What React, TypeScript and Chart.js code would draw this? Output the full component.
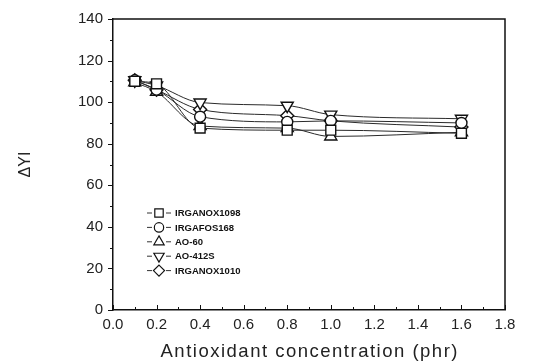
import React, { useEffect, useRef } from 'react';
import { Chart, registerables } from 'chart.js';

Chart.register(...registerables);

const concentrations = [0.1, 0.2, 0.4, 0.8, 1.0, 1.6];
const seriesNames = ['IRGANOX1098', 'IRGAFOS168', 'AO-60', 'AO-412S', 'IRGANOX1010'];
const irganox1098 = [110, 108.8, 87.5, 86.5, 86.5, 85];
const irgafos168 = [110.5, 106, 93, 90.5, 91, 90];
const ao60 = [109.5, 105, 88.5, 87.5, 83.5, 85.5];
const ao412s = [110.5, 108, 99.8, 98.3, 94, 92];
const irganox1010 = [110.5, 106, 96.5, 93.5, 91, 88];
const xAxisTitle = 'Antioxidant concentration (phr)';
const yAxisTitle = 'ΔYI';

const seriesValues = [irganox1098, irgafos168, ao60, ao412s, irganox1010];
const markerStyles = ['rect', 'circle', 'triangle', 'triangle', 'rectRot'];
const markerRotations = [0, 0, 0, 180, 0];
const markerRadii = [7, 5.5, 7, 7, 6.5];

const FONT = '"Liberation Sans", Arial, Helvetica, sans-serif';

function drawMarker(ctx: CanvasRenderingContext2D, style: string, rot: number, x: number, y: number, r: number) {
  ctx.beginPath();
  if (style === 'rect') {
    const s = r * Math.SQRT1_2;
    ctx.rect(x - s, y - s, 2 * s, 2 * s);
  } else if (style === 'circle') {
    ctx.arc(x, y, r, 0, Math.PI * 2);
  } else if (style === 'triangle') {
    let a = (rot * Math.PI) / 180;
    ctx.moveTo(x + Math.sin(a) * r, y - Math.cos(a) * r);
    a += (2 * Math.PI) / 3;
    ctx.lineTo(x + Math.sin(a) * r, y - Math.cos(a) * r);
    a += (2 * Math.PI) / 3;
    ctx.lineTo(x + Math.sin(a) * r, y - Math.cos(a) * r);
    ctx.closePath();
  } else if (style === 'rectRot') {
    ctx.moveTo(x, y - r);
    ctx.lineTo(x + r, y);
    ctx.lineTo(x, y + r);
    ctx.lineTo(x - r, y);
    ctx.closePath();
  }
  ctx.fillStyle = '#fff';
  ctx.fill();
  ctx.stroke();
}

function drawSpacedText(ctx: CanvasRenderingContext2D, text: string, cx: number, y: number, spacing: number) {
  const chars = Array.from(text);
  const widths = chars.map((c) => ctx.measureText(c).width);
  const total = widths.reduce((a, b) => a + b, 0) + spacing * (chars.length - 1);
  let x = cx - total / 2;
  ctx.textAlign = 'left';
  chars.forEach((c, i) => {
    ctx.fillText(c, x, y);
    x += widths[i] + spacing;
  });
}

const framePlugin = {
  id: 'frameTicks',
  afterDraw(chart: any) {
    const { ctx, chartArea } = chart;
    const xs = chart.scales.x;
    const ys = chart.scales.y;
    ctx.save();
    ctx.strokeStyle = '#111';
    ctx.lineWidth = 1.5;
    ctx.beginPath();
    ctx.moveTo(chartArea.left, chartArea.top);
    ctx.lineTo(chartArea.right, chartArea.top);
    ctx.lineTo(chartArea.right, chartArea.bottom);
    ctx.stroke();
    ctx.lineWidth = 1;
    // y ticks (outward)
    for (let v = 0; v <= 140; v += 10) {
      const py = Math.round(ys.getPixelForValue(v)) + 0.5;
      const len = v % 20 === 0 ? 5 : 3;
      ctx.beginPath();
      ctx.moveTo(chartArea.left - len, py);
      ctx.lineTo(chartArea.left, py);
      ctx.stroke();
    }
    // x ticks (inward)
    for (let i = 0; i <= 18; i++) {
      const px = Math.round(xs.getPixelForValue(i / 10)) + 0.5;
      const len = i % 2 === 0 ? 5 : 3;
      ctx.beginPath();
      ctx.moveTo(px, chartArea.bottom);
      ctx.lineTo(px, chartArea.bottom - len);
      ctx.stroke();
    }
    // x axis title
    ctx.fillStyle = '#222';
    ctx.font = `18.5px ${FONT}`;
    ctx.textBaseline = 'alphabetic';
    drawSpacedText(ctx, xAxisTitle, (chartArea.left + chartArea.right) / 2, 357, 1.5);
    // legend
    const lx = 159;
    const ly0 = 213;
    const step = 14.4;
    ctx.font = `bold 9.5px ${FONT}`;
    ctx.textBaseline = 'middle';
    ctx.textAlign = 'left';
    seriesNames.forEach((name, i) => {
      const y = ly0 + i * step;
      ctx.strokeStyle = '#333';
      ctx.lineWidth = 1;
      ctx.beginPath();
      ctx.moveTo(lx - 12, y);
      ctx.lineTo(lx - 7, y);
      ctx.moveTo(lx + 7, y);
      ctx.lineTo(lx + 12, y);
      ctx.stroke();
      ctx.strokeStyle = '#111';
      ctx.lineWidth = 1.2;
      drawMarker(ctx, markerStyles[i], markerRotations[i], lx, y, markerRadii[i] * 0.85);
      ctx.fillStyle = '#111';
      ctx.fillText(name, lx + 16, y + 0.5);
    });
    ctx.restore();
  },
};

export default function App() {
  const canvasRef = useRef<HTMLCanvasElement | null>(null);

  useEffect(() => {
    document.body.style.margin = '0';
    const canvas = canvasRef.current;
    if (!canvas) return;
    const datasets = seriesNames.map((name, i) => ({
      label: name,
      data: concentrations.map((c, j) => ({ x: c, y: seriesValues[i][j] })),
      borderColor: '#2a2a2a',
      borderWidth: 1,
      backgroundColor: '#ffffff',
      pointBackgroundColor: '#ffffff',
      pointBorderColor: '#111111',
      pointBorderWidth: 1.4,
      pointStyle: markerStyles[i] as any,
      rotation: markerRotations[i],
      pointRotation: markerRotations[i],
      pointRadius: markerRadii[i],
      cubicInterpolationMode: 'monotone' as const,
      showLine: true,
      fill: false,
    }));
    const chart = new Chart(canvas, {
      type: 'scatter',
      data: { datasets },
      options: {
        animation: false,
        responsive: false,
        layout: { padding: { left: 0, right: 35, top: 18, bottom: 0 } },
        plugins: { legend: { display: false }, tooltip: { enabled: false } },
        scales: {
          x: {
            type: 'linear',
            min: 0,
            max: 1.8,
            ticks: {
              stepSize: 0.2,
              padding: 6,
              color: '#222',
              font: { family: FONT, size: 15 },
              callback: (v: any) => Number(v).toFixed(1),
            },
            grid: { display: false, drawTicks: false },
            border: { display: true, color: '#111', width: 1.5 },
            title: { display: false },
            afterFit: (scale: any) => {
              scale.height = 52;
            },
          },
          y: {
            type: 'linear',
            min: 0,
            max: 140,
            ticks: {
              stepSize: 20,
              padding: 10,
              color: '#222',
              font: { family: FONT, size: 15 },
            },
            grid: { display: false, drawTicks: false },
            border: { display: true, color: '#111', width: 1.5 },
            title: {
              display: true,
              text: yAxisTitle,
              color: '#222',
              font: { family: FONT, size: 16 },
              padding: { top: 16, bottom: 0 },
            },
            afterFit: (scale: any) => {
              scale.width = 113;
            },
          },
        },
      },
      plugins: [framePlugin],
    });
    return () => chart.destroy();
  }, []);

  return (
    <div style={{ width: 540, height: 362, background: '#fff' }}>
      <canvas ref={canvasRef} width={540} height={362} style={{ display: 'block' }} />
    </div>
  );
}
